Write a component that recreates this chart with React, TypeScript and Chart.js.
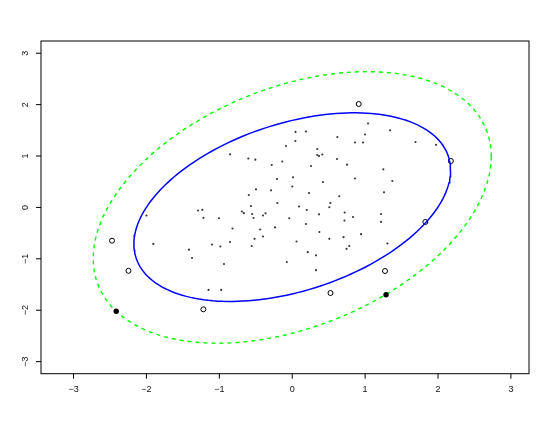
import React, { useEffect, useRef } from "react";
import { Chart, registerables } from "chart.js";

Chart.register(...registerables);

// regular observations (small dots)
const ptsX = [-0.853, -0.602, -0.506, -0.281, -0.136, -0.085, -0.209, -0.595, -0.497, -0.291, -0.565, -0.204, 0.045, 0.189, 0.619, 0.043, 0.344, 0.344, 0.368, 0.413, 0.615, 0.752, 0.258, 1.04, 1.342, 0.999, 0.861, 0.971, 1.691, 1.973, 1.25, 0.861, 1.373, 0.011, 0.001, 0.422, 0.23, 0.645, 1.259, 0.523, 0.509, 0.093, 0.199, -0.691, -0.664, -0.549, -0.531, -0.401, -0.366, -0.041, 0.368, 0.72, 0.717, -0.819, -0.439, -0.236, 0.189, -0.401, -0.517, 0.372, 0.509, 0.704, -0.853, 0.059, 0.834, 1.218, 1.218, 0.944, 1.305, -1.999, -1.292, -1.233, -1.217, -1.004, -1.905, -1.1, -1.416, -1.374, -0.986, -0.556, -0.936, -1.148, -0.974, 0.213, 0.326, 0.745, 0.783, -0.074, 0.326];
const ptsY = [1.034, 0.952, 0.929, 0.825, 0.894, 1.195, 0.553, 0.242, 0.353, 0.333, 0.028, 0.086, 1.468, 1.477, 1.37, 1.292, 1.137, 1.02, 1.001, 1.03, 0.942, 0.831, 0.806, 1.633, 1.501, 1.419, 1.263, 1.263, 1.273, 1.218, 0.742, 0.563, 0.514, 0.586, 0.407, 0.495, 0.281, 0.217, 0.294, 0.086, 0.003, 0.018, -0.05, -0.079, -0.112, -0.128, -0.206, -0.157, -0.114, -0.211, -0.134, -0.099, -0.254, -0.41, -0.429, -0.39, -0.322, -0.566, -0.61, -0.478, -0.61, -0.579, -0.673, -0.663, -0.186, -0.128, -0.283, -0.521, -0.702, -0.157, -0.06, -0.046, -0.202, -0.211, -0.711, -0.721, -0.822, -0.984, -0.76, -0.75, -1.101, -1.606, -1.606, -0.871, -0.931, -0.805, -0.75, -1.062, -1.221];

// observations outside the robust ellipse (open circles)
const outX = [0.912, 2.176, 1.826, -2.472, -2.246, -1.219, 0.525, 1.273];
const outY = [2.012, 0.903, -0.283, -0.647, -1.233, -1.982, -1.665, -1.237];

// observations on/outside the classical ellipse (filled)
const flagX = [-2.414, 1.287];
const flagY = [-2.021, -1.698];

const xTicks = [-3, -2, -1, 0, 1, 2, 3];
const yTicks = [-3, -2, -1, 0, 1, 2, 3];
const xRange = [-3.446, 3.248];
const yRange = [-3.235, 3.238];

// ellipse parameters: centre and shape matrix [sxx, sxy, syy]
const robustCenter = [0, 0.005];
const robustShape = [4.718, 1.56, 3.367];
const classicCenter = [0, 0];
const classicShape = [7.453, 2.71, 6.98];

function ellipse(center: number[], shape: number[]) {
  const l11 = Math.sqrt(shape[0]);
  const l21 = shape[1] / l11;
  const l22 = Math.sqrt(shape[2] - l21 * l21);
  const out: { x: number; y: number }[] = [];
  for (let i = 0; i <= 360; i += 2) {
    const t = (i * Math.PI) / 180;
    const c = Math.cos(t), s = Math.sin(t);
    out.push({ x: center[0] + l11 * c, y: center[1] + l21 * c + l22 * s });
  }
  return out;
}

const lbl = (v: number) => (v < 0 ? "\u2212" + Math.abs(v) : String(v));

const axesPlugin = {
  id: "rAxes",
  afterDraw(chart: any) {
    const { ctx, chartArea: a, scales } = chart;
    const x = scales.x, y = scales.y;
    ctx.save();
    ctx.strokeStyle = "#000";
    ctx.lineWidth = 1;
    ctx.strokeRect(a.left, a.top, a.right - a.left, a.bottom - a.top);
    ctx.font = '9px "Liberation Sans", Arial, sans-serif';
    ctx.fillStyle = "#111";
    ctx.textAlign = "center";
    ctx.textBaseline = "middle";
    xTicks.forEach((v) => {
      const px = x.getPixelForValue(v);
      ctx.beginPath();
      ctx.moveTo(px, a.bottom);
      ctx.lineTo(px, a.bottom + 5);
      ctx.stroke();
      ctx.fillText(lbl(v), px, a.bottom + 15.5);
    });
    yTicks.forEach((v) => {
      const py = y.getPixelForValue(v);
      ctx.beginPath();
      ctx.moveTo(a.left - 5, py);
      ctx.lineTo(a.left, py);
      ctx.stroke();
      ctx.save();
      ctx.translate(a.left - 15.5, py);
      ctx.rotate(-Math.PI / 2);
      ctx.fillText(lbl(v), 0, 0);
      ctx.restore();
    });
    ctx.restore();
  },
};

export default function App() {
  const ref = useRef<HTMLCanvasElement>(null);
  useEffect(() => {
    if (!ref.current) return;
    const chart = new Chart(ref.current, {
      type: "scatter",
      data: {
        datasets: [
          {
            data: flagX.map((v, i) => ({ x: v, y: flagY[i] })),
            pointRadius: 2.7,
            backgroundColor: "#000",
            borderColor: "#000",
            borderWidth: 0,
          },
          {
            data: ellipse(robustCenter, robustShape),
            showLine: true,
            borderColor: "#0000ff",
            borderWidth: 1.5,
            pointRadius: 0,
            fill: false,
          },
          {
            data: ellipse(classicCenter, classicShape),
            showLine: true,
            borderColor: "#00ff00",
            borderWidth: 1.4,
            borderDash: [4, 4],
            pointRadius: 0,
            fill: false,
          },
          {
            data: outX.map((v, i) => ({ x: v, y: outY[i] })),
            pointRadius: 2.5,
            backgroundColor: "rgba(0,0,0,0)",
            borderColor: "#000",
            borderWidth: 1,
          },
          {
            data: ptsX.map((v, i) => ({ x: v, y: ptsY[i] })),
            pointRadius: 1.1,
            backgroundColor: "#3a3a3a",
            borderWidth: 0,
          },
        ],
      },
      options: {
        animation: false,
        responsive: false,
        events: [],
        layout: { padding: { left: 41, top: 41, right: 21, bottom: 51.3 } },
        plugins: { legend: { display: false }, tooltip: { enabled: false } },
        scales: {
          x: { type: "linear", display: false, min: xRange[0], max: xRange[1] },
          y: { type: "linear", display: false, min: yRange[0], max: yRange[1] },
        },
      },
      plugins: [axesPlugin],
    });
    return () => chart.destroy();
  }, []);
  return (
    <div style={{ position: "fixed", left: 0, top: 0, width: 550, height: 425, background: "#fff" }}>
      <canvas ref={ref} width={550} height={425} style={{ width: 550, height: 425, display: "block" }} />
    </div>
  );
}
